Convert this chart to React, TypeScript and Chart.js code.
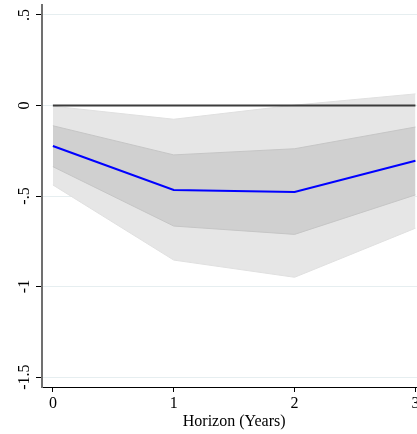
import React, { useEffect, useRef } from "react";
import { Chart, registerables } from "chart.js";

Chart.register(...registerables);

const horizons = [0, 1, 2, 3];
const irf = [-0.224, -0.467, -0.478, -0.305];
const innerUpper = [-0.112, -0.273, -0.239, -0.119];
const innerLower = [-0.338, -0.666, -0.712, -0.494];
const outerUpper = [-0.004, -0.076, 0.002, 0.064];
const outerLower = [-0.439, -0.854, -0.949, -0.678];
const zeroLine = [0, 0, 0, 0];

const yTickValues = [-1.5, -1, -0.5, 0, 0.5];
const yTickLabels = ["-1.5", "-1", "-.5", "0", ".5"];
const xTickValues = [0, 1, 2, 3];
const xTickLabels = ["0", "1", "2", "3"];
const xTitle = "Horizon (Years)";

const FONT = '16px "Liberation Serif", "Times New Roman", serif';

const pts = (ys: number[]) => horizons.map((x, i) => ({ x, y: ys[i] }));

const labelPlugin = {
  id: "stataLabels",
  afterDraw(chart: any) {
    const ctx = chart.ctx;
    const xs = chart.scales.x;
    const ys = chart.scales.y;
    ctx.save();
    ctx.fillStyle = "#000";
    ctx.font = FONT;
    // y tick labels, rotated
    yTickValues.forEach((v, i) => {
      const py = ys.getPixelForValue(v);
      ctx.save();
      ctx.translate(28.5, py);
      ctx.rotate(-Math.PI / 2);
      ctx.textAlign = "center";
      ctx.textBaseline = "alphabetic";
      ctx.fillText(yTickLabels[i], 0, 0);
      ctx.restore();
    });
    // x tick labels
    ctx.textAlign = "center";
    ctx.textBaseline = "alphabetic";
    xTickValues.forEach((v, i) => {
      const px = xs.getPixelForValue(v);
      ctx.fillText(xTickLabels[i], px, 408);
    });
    // x title centered on data range
    const cx = (xs.getPixelForValue(horizons[0]) + xs.getPixelForValue(horizons[horizons.length - 1])) / 2;
    ctx.fillText(xTitle, cx, 426);
    ctx.restore();
  },
};

export default function App() {
  const ref = useRef<HTMLCanvasElement>(null);
  useEffect(() => {
    if (!ref.current) return;
    const chart = new Chart(ref.current, {
      type: "line",
      data: {
        datasets: [
          {
            label: "IRF",
            data: pts(irf),
            borderColor: "#0000ff",
            borderWidth: 2,
            pointRadius: 0,
            fill: false,
          },
          {
            label: "zero",
            data: pts(zeroLine),
            borderColor: "#3c3c3c",
            borderWidth: 2,
            pointRadius: 0,
            fill: false,
          },
          {
            label: "innerLower",
            data: pts(innerLower),
            borderColor: "#c6c6c6",
            borderWidth: 1,
            pointRadius: 0,
            fill: false,
          },
          {
            label: "innerUpper",
            data: pts(innerUpper),
            borderColor: "#c6c6c6",
            borderWidth: 1,
            pointRadius: 0,
            backgroundColor: "#d0d0d0",
            fill: "-1",
          },
          {
            label: "outerLower",
            data: pts(outerLower),
            borderColor: "#e0e0e0",
            borderWidth: 1,
            pointRadius: 0,
            fill: false,
          },
          {
            label: "outerUpper",
            data: pts(outerUpper),
            borderColor: "#e0e0e0",
            borderWidth: 1,
            pointRadius: 0,
            backgroundColor: "#e6e6e6",
            fill: "-1",
          },
        ],
      },
      options: {
        animation: false,
        responsive: false,
        maintainAspectRatio: false,
        layout: { padding: { top: 5, right: 0, left: 0, bottom: 0 } },
        plugins: {
          legend: { display: false },
          tooltip: { enabled: false },
        },
        scales: {
          x: {
            type: "linear",
            min: -0.09,
            max: 3.013,
            afterBuildTicks: (s: any) => {
              s.ticks = xTickValues.map((v) => ({ value: v }));
            },
            afterFit: (s: any) => {
              s.height = 47;
            },
            ticks: { display: false },
            grid: {
              drawOnChartArea: false,
              drawTicks: true,
              tickLength: 5,
              color: "#000",
              tickColor: "#000",
            },
            border: { display: true, color: "#000", width: 1 },
          },
          y: {
            type: "linear",
            min: -1.555,
            max: 0.555,
            afterBuildTicks: (s: any) => {
              s.ticks = yTickValues.map((v) => ({ value: v }));
            },
            afterFit: (s: any) => {
              s.width = 42;
            },
            ticks: { display: false },
            grid: {
              drawOnChartArea: true,
              drawTicks: true,
              tickLength: 6,
              color: "#e6eef0",
              tickColor: "#000",
              lineWidth: 1,
            },
            border: { display: true, color: "#707070", width: 2 },
          },
        },
      },
      plugins: [labelPlugin],
    });
    return () => chart.destroy();
  }, []);
  return (
    <div style={{ position: "fixed", left: 0, top: 0, width: 417, height: 434, background: "#fff" }}>
      <canvas ref={ref} width={417} height={434} style={{ display: "block" }} />
    </div>
  );
}
